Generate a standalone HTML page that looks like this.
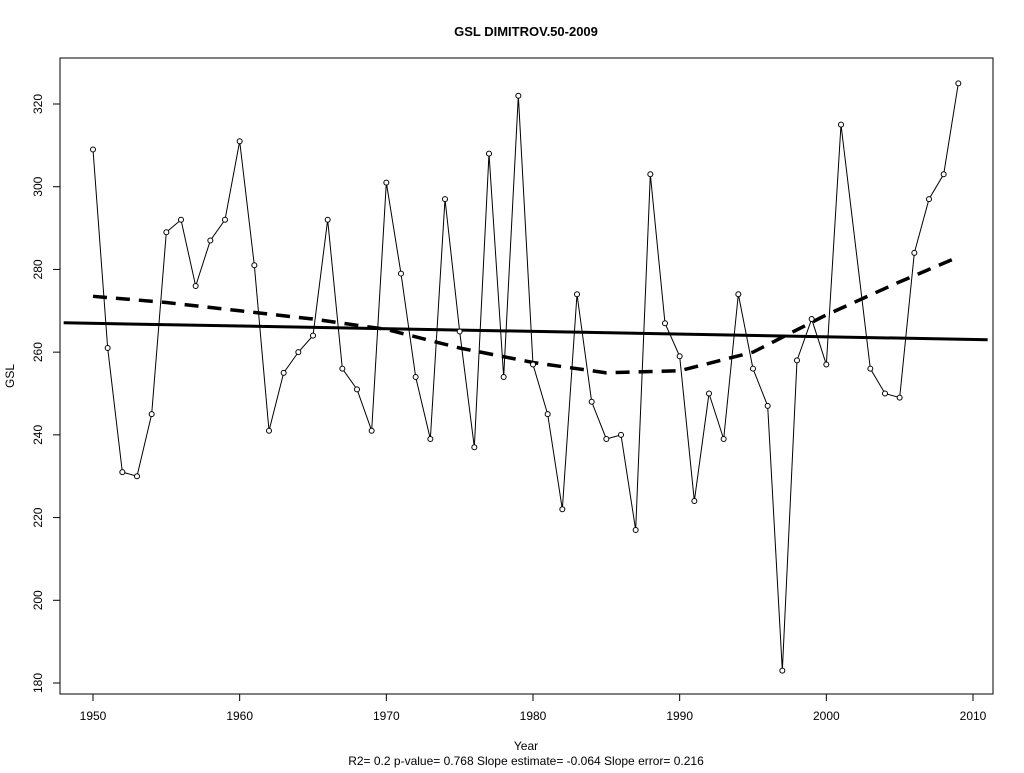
<!DOCTYPE html>
<html><head><meta charset="utf-8"><style>
body{margin:0;background:#fff;font-family:"Liberation Sans",sans-serif}
svg text{font-family:"Liberation Sans",sans-serif}
</style></head><body>
<svg id="c" width="1024" height="768">
<rect width="1024" height="768" fill="#fff"/>
<text x="526" y="36" text-anchor="middle" font-size="13" font-weight="bold">GSL   DIMITROV.50-2009</text>
<rect x="60" y="58" width="933" height="636" fill="none" stroke="#000"/>
<text x="526" y="750" text-anchor="middle" font-size="12">Year</text>
<text x="526" y="765" text-anchor="middle" font-size="12">R2= 0.2  p-value= 0.768  Slope estimate= -0.064  Slope error= 0.216</text>
<text transform="translate(14,376) rotate(-90)" text-anchor="middle" font-size="12">GSL</text>
<g id="g"></g>
</svg>
<script>
const years=[1950,1951,1952,1953,1954,1955,1956,1957,1958,1959,1960,1961,1962,1963,1964,1965,1966,1967,1968,1969,1970,1971,1972,1973,1974,1975,1976,1977,1978,1979,1980,1981,1982,1983,1984,1985,1986,1987,1988,1989,1990,1991,1992,1993,1994,1995,1996,1997,1998,1999,2000,2001,2002,2003,2004,2005,2006,2007,2008,2009];
const gsl=[309,261,231,230,245,289,292,276,287,292,311,281,241,255,260,264,292,256,251,241,301,279,254,239,297,265,237,308,254,322,257,245,222,274,248,239,240,217,303,267,259,224,250,239,274,256,247,183,258,268,257,315,null,256,250,249,284,297,303,325];
const smoothYears=[1950,1955,1960,1965,1970,1975,1980,1985,1990,1995,2000,2005,2009];
const smoothVals=[273.5,272,270,268,265.5,261,257.5,255,255.5,260,269,277,283];
const trendYears=[1948,2011];
const trendVals=[267.1,263.0];
const xTicks=[1950,1960,1970,1980,1990,2000,2010];
const yTicks=[180,200,220,240,260,280,300,320];
const X=v=>93+(v-1950)*880/60;
const Y=v=>683-(v-180)*579/140;
const ns="http://www.w3.org/2000/svg",g=document.getElementById('g');
function mk(t,a){const e=document.createElementNS(ns,t);for(const k in a)e.setAttribute(k,a[k]);g.appendChild(e);return e;}
xTicks.forEach(t=>{const l=mk('line',{x1:X(t),x2:X(t),y1:694,y2:701,stroke:'#000'});


const tx=mk('text',{x:X(t),y:720,'text-anchor':'middle','font-size':12});tx.textContent=t;

});
yTicks.forEach(t=>{const l=mk('line',{x1:53,x2:60,y1:Y(t),y2:Y(t),stroke:'#000'});


const tx=mk('text',{transform:`translate(42,${Y(t)}) rotate(-90)`,'text-anchor':'middle','font-size':12});tx.textContent=t;

});
const tr=mk('line',{x1:60,x2:993,y1:Y(trendVals[0]+(trendVals[1]-trendVals[0])*(X(trendYears[0])<60?0:0)),y2:Y(trendVals[1]),stroke:'#000','stroke-width':3});
tr.setAttribute('x1',X(trendYears[0]));tr.setAttribute('x2',X(trendYears[1]));tr.setAttribute('y1',Y(trendVals[0]));


const sp=mk('polyline',{points:smoothYears.map((y,i)=>X(y)+','+Y(smoothVals[i])).join(' '),fill:'none',stroke:'#000','stroke-width':3.5,'stroke-dasharray':'14 9'});


const pts=years.map((y,i)=>gsl[i]==null?null:[X(y),Y(gsl[i])]).filter(p=>p);
const ln=mk('polyline',{points:pts.map(p=>p.join(',')).join(' '),fill:'none',stroke:'#000','stroke-width':1});


years.forEach((y,i)=>{if(gsl[i]==null)return;const c=mk('circle',{cx:X(y),cy:Y(gsl[i]),r:2.5,fill:'#fff',stroke:'#000'});

});
</script>
</body></html>
